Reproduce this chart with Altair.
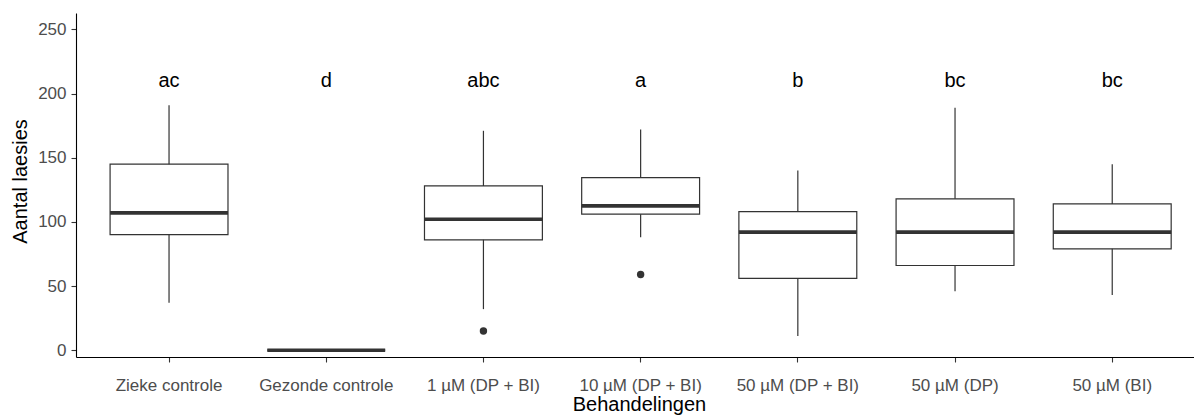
import altair as alt
import pandas as pd

# Treatment groups and their box-plot summary statistics (lesion counts)
groups = [
    "Zieke controle",
    "Gezonde controle",
    "1 µM (DP + BI)",
    "10 µM (DP + BI)",
    "50 µM (DP + BI)",
    "50 µM (DP)",
    "50 µM (BI)",
]
whisker_low = [37, 0, 32, 88, 11, 46, 43]
q1 = [90, 0, 86, 106, 56, 66, 79]
median = [107, 0, 102, 112.5, 92, 92, 92]
q3 = [145, 0, 128, 134.5, 108, 118, 114]
whisker_high = [191, 0, 171, 172, 140, 189, 145]

# Significance letters placed above each box
letters = ["ac", "d", "abc", "a", "b", "bc", "bc"]
letter_y = [210] * 7

# Outlying observations
outlier_groups = ["1 µM (DP + BI)", "10 µM (DP + BI)"]
outlier_values = [15, 59]

stats = pd.DataFrame({
    "groep": groups,
    "lo": whisker_low,
    "q1": q1,
    "med": median,
    "q3": q3,
    "hi": whisker_high,
    "letter": letters,
    "ly": letter_y,
})
outliers = pd.DataFrame({"groep": outlier_groups, "waarde": outlier_values})

W, H = 1118, 344
STEP = W / (7 + 2 * 0.056)
INK = "#333333"

x_scale = alt.Scale(domain=groups, paddingInner=0, paddingOuter=0.056, align=0.82)
y_scale = alt.Scale(domain=[-5.3, 262.8], nice=False, zero=False)

x_enc = alt.X(
    "groep:N",
    scale=x_scale,
    sort=groups,
    title="Behandelingen",
    axis=alt.Axis(
        labelAngle=0,
        titleX=563,
        titleY=53,
        titleBaseline="alphabetic",
        labelBaseline="alphabetic",
        labelPadding=28,
    ),
)
y_axis = alt.Axis(
    values=[0, 50, 100, 150, 200, 250],
    title="Aantal laesies",
    titleX=-56,
    titleY=168,
    titleBaseline="middle",
    labelPadding=5,
)

base = alt.Chart(stats)

whiskers = base.mark_rule(color=INK, strokeWidth=1.2).encode(
    x=x_enc,
    y=alt.Y("lo:Q", scale=y_scale, axis=y_axis),
    y2="hi:Q",
)

boxes = base.mark_bar(
    width={"band": 0.75}, fill="white", stroke=INK, strokeWidth=1.2
).encode(
    x=x_enc,
    y=alt.Y("q1:Q", scale=y_scale),
    y2="q3:Q",
)

medians = base.mark_tick(
    color=INK, opacity=1, size=STEP * 0.75, thickness=3.6
).encode(
    x=x_enc,
    y=alt.Y("med:Q", scale=y_scale),
)

points = alt.Chart(outliers).mark_circle(color=INK, size=55, opacity=1).encode(
    x=x_enc,
    y=alt.Y("waarde:Q", scale=y_scale),
)

labels = base.mark_text(
    font="Liberation Sans", fontSize=20, color="black", baseline="middle"
).encode(
    x=x_enc,
    y=alt.Y("ly:Q", scale=y_scale),
    text="letter:N",
)

chart = (
    alt.layer(whiskers, boxes, medians, points, labels)
    .properties(
        width=W,
        height=H,
        autosize=alt.AutoSizeParams(type="none"),
        padding={"left": 76, "top": 13, "right": 0, "bottom": 62},
        background="white",
    )
    .configure_view(stroke=None)
    .configure_axis(
        grid=False,
        domainColor="black",
        domainWidth=1.1,
        tickColor=INK,
        tickWidth=1.1,
        tickSize=5,
        labelFont="Liberation Sans",
        labelFontSize=17,
        labelColor="#4D4D4D",
        titleFont="Liberation Sans",
        titleFontSize=20,
        titleFontWeight="normal",
        titleColor="black",
    )
)

chart.save("out.html", embed_options={"renderer": "svg", "actions": False})
